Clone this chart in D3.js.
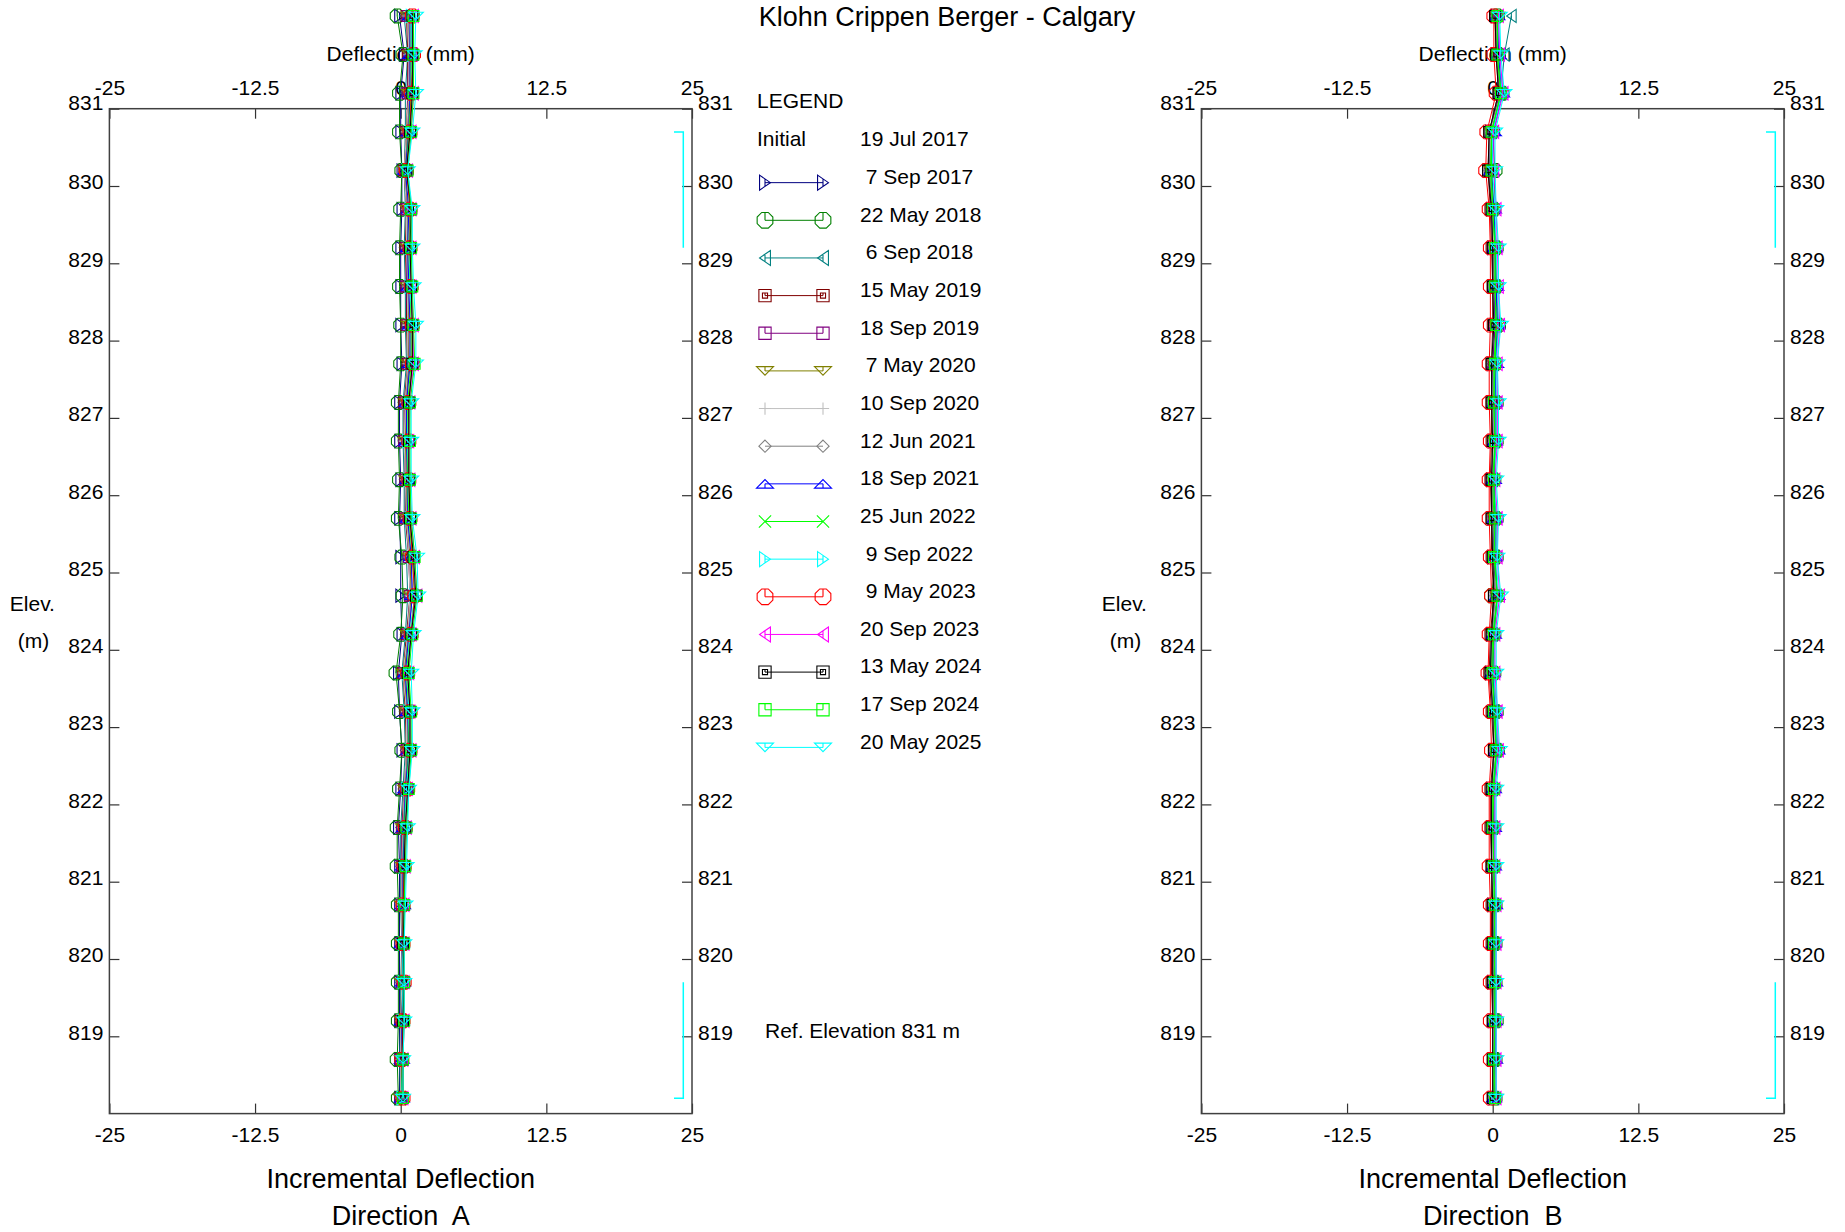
<!DOCTYPE html>
<html>
<head>
<meta charset="utf-8">
<script src="https://cdn.jsdelivr.net/npm/d3@7"></script>
<style>
  body { margin: 0; background: #fff; }
  svg { display: block; }
  text { font-family: "Liberation Sans", Arial, Helvetica, sans-serif; fill: #000; }
</style>
</head>
<body>
<script>
// ---------------- DATA ----------------
const elevations = [832.2,831.7,831.2,830.7,830.2,829.7,829.2,828.7,828.2,827.7,
                    827.2,826.7,826.2,825.7,825.2,824.7,824.2,823.7,823.2,822.7,
                    822.2,821.7,821.2,820.7,820.2,819.7,819.2,818.7,818.2];
const initialDate = "19 Jul 2017";
const dates = ["7 Sep 2017","22 May 2018","6 Sep 2018","15 May 2019","18 Sep 2019","7 May 2020",
               "10 Sep 2020","12 Jun 2021","18 Sep 2021","25 Jun 2022","9 Sep 2022","9 May 2023",
               "20 Sep 2023","13 May 2024","17 Sep 2024","20 May 2025"];
const xTicks = [-25, -12.5, 0, 12.5, 25];
const yTicks = [831,830,829,828,827,826,825,824,823,822,821,820,819];
const bracketRanges = [[830.7, 829.2], [819.7, 818.2]];

// Direction A (mm)
const A_07Sep2017 = [-0.1,0.3,0.0,0.0,0.1,0.1,0.0,0.0,0.0,0.1, -0.1,-0.1,0.0,-0.1,0.0,0.0,0.1,-0.2,-0.1,0.1, 0.0,-0.2,-0.1,-0.1,-0.1,-0.1,-0.1,-0.1,-0.1];
const A_22May2018 = [-0.3,0.2,-0.1,-0.1,0.1,0.0,-0.1,-0.1,0.0,0.0, -0.2,-0.2,-0.1,-0.2,0.1,0.2,0.0,-0.4,-0.1,0.1, -0.1,-0.3,-0.3,-0.2,-0.2,-0.2,-0.2,-0.3,-0.2];
const A_06Sep2018 = [0.3,0.6,0.4,0.4,0.3,0.4,0.3,0.4,0.4,0.5, 0.2,0.2,0.3,0.3,0.5,0.6,0.4,0.1,0.3,0.4, 0.2,0.0,0.0,0.0,0.1,0.0,0.0,-0.1,0.0];
const A_15May2019 = [0.5,0.6,0.6,0.5,0.3,0.5,0.4,0.5,0.5,0.6, 0.3,0.3,0.4,0.4,0.7,0.8,0.5,0.2,0.4,0.5, 0.3,0.1,0.1,0.1,0.1,0.1,0.0,0.0,0.0];
const A_18Sep2019 = [0.6,0.7,0.6,0.6,0.4,0.5,0.5,0.5,0.6,0.7, 0.4,0.3,0.4,0.5,0.7,0.8,0.6,0.3,0.5,0.5, 0.4,0.1,0.1,0.1,0.1,0.1,0.1,0.0,0.0];
const A_07May2020 = [0.6,0.8,0.7,0.6,0.4,0.6,0.6,0.6,0.7,0.7, 0.5,0.4,0.5,0.5,0.8,0.9,0.6,0.3,0.5,0.6, 0.4,0.2,0.2,0.1,0.1,0.1,0.1,0.1,0.0];
const A_10Sep2020 = [0.6,0.7,0.7,0.5,0.3,0.5,0.5,0.6,0.6,0.6, 0.4,0.3,0.4,0.5,0.7,0.8,0.6,0.2,0.5,0.5, 0.3,0.2,0.1,0.1,0.1,0.1,0.0,0.0,0.0];
const A_12Jun2021 = [0.7,0.8,0.8,0.6,0.4,0.6,0.6,0.6,0.8,0.8, 0.5,0.5,0.5,0.6,0.9,1.0,0.7,0.4,0.6,0.6, 0.4,0.2,0.2,0.2,0.2,0.2,0.1,0.1,0.1];
const A_18Sep2021 = [0.8,0.8,0.8,0.7,0.4,0.7,0.6,0.7,0.8,0.8, 0.5,0.5,0.6,0.6,0.9,1.0,0.7,0.4,0.6,0.7, 0.4,0.3,0.2,0.2,0.1,0.2,0.1,0.1,0.1];
const A_25Jun2022 = [0.9,0.9,0.9,0.7,0.5,0.8,0.7,0.8,0.9,0.9, 0.6,0.6,0.6,0.7,1.0,1.2,0.8,0.5,0.7,0.7, 0.5,0.3,0.3,0.2,0.2,0.2,0.2,0.1,0.1];
const A_09Sep2022 = [0.9,1.0,1.0,0.8,0.5,0.8,0.8,0.8,1.0,1.0, 0.7,0.6,0.7,0.8,1.1,1.2,0.8,0.6,0.7,0.8, 0.5,0.4,0.3,0.3,0.2,0.2,0.2,0.2,0.1];
const A_09May2023 = [1.0,1.1,0.9,0.8,0.5,0.8,0.8,0.9,1.0,1.0, 0.7,0.7,0.7,0.8,1.0,1.2,0.9,0.6,0.8,0.8, 0.6,0.4,0.3,0.2,0.2,0.3,0.2,0.1,0.2];
const A_20Sep2023 = [1.1,1.0,1.1,0.9,0.6,0.9,0.9,0.9,1.1,1.1, 0.8,0.7,0.8,0.9,1.2,1.4,0.9,0.7,0.8,0.9, 0.6,0.5,0.4,0.3,0.3,0.3,0.3,0.2,0.2];
const A_13May2024 = [1.0,1.0,1.0,0.8,0.5,0.9,0.8,0.9,1.0,1.0, 0.7,0.7,0.7,0.8,1.1,1.3,0.9,0.6,0.8,0.8, 0.6,0.4,0.3,0.3,0.2,0.3,0.2,0.2,0.2];
const A_17Sep2024 = [1.1,1.1,1.1,0.9,0.6,0.9,0.9,1.0,1.1,1.2, 0.8,0.8,0.8,0.9,1.2,1.4,1.0,0.7,0.9,0.9, 0.7,0.5,0.4,0.3,0.3,0.3,0.3,0.2,0.2];
const A_20May2025 = [1.3,1.2,1.3,1.0,0.6,1.0,1.0,1.1,1.3,1.3, 0.9,0.9,0.9,1.0,1.4,1.5,1.1,0.9,1.0,1.0, 0.7,0.6,0.5,0.4,0.3,0.3,0.3,0.2,0.2];

// Direction B (mm)
const B_07Sep2017 = [0.3,0.3,0.6,-0.2,-0.3,-0.1,0.0,0.1,0.2,0.0, 0.0,0.1,-0.1,0.0,0.0,0.2,-0.1,-0.2,0.1,0.2, -0.1,-0.1,0.0,0.0,0.0,0.0,0.1,0.1,0.1];
const B_22May2018 = [0.4,0.5,0.8,0.0,0.2,0.1,0.3,0.3,0.5,0.2, 0.3,0.3,0.1,0.3,0.3,-0.1,0.1,0.1,0.3,0.4, 0.1,0.1,0.1,0.2,0.2,0.2,0.3,0.2,0.2];
const B_06Sep2018 = [1.6,1.0,0.7,-0.1,-0.2,0.0,0.1,0.2,0.3,0.1, 0.1,0.1,0.0,0.1,0.1,0.3,0.0,-0.1,0.1,0.3, 0.0,0.0,0.0,0.1,0.1,0.1,0.1,0.1,0.1];
const B_15May2019 = [0.2,0.3,0.5,-0.3,-0.4,-0.2,-0.1,0.0,0.0,-0.1, -0.1,-0.1,-0.2,-0.1,-0.1,0.1,-0.2,-0.3,-0.1,0.1, -0.2,-0.2,-0.1,-0.1,-0.1,-0.1,0.0,0.0,0.0];
const B_18Sep2019 = [0.3,0.4,0.6,-0.2,-0.2,0.0,0.1,0.2,0.2,0.0, 0.1,0.1,-0.1,0.1,0.1,0.3,0.0,-0.1,0.1,0.2, 0.1,0.0,0.0,0.1,0.1,0.1,0.1,0.1,0.1];
const B_07May2020 = [0.4,0.5,0.7,-0.1,-0.1,0.1,0.2,0.3,0.4,0.2, 0.2,0.2,0.1,0.2,0.2,0.4,0.1,0.0,0.2,0.3, 0.1,0.1,0.1,0.2,0.2,0.2,0.2,0.2,0.2];
const B_10Sep2020 = [0.3,0.4,0.7,-0.2,-0.2,0.0,0.1,0.2,0.3,0.1, 0.1,0.1,0.0,0.1,0.2,0.3,0.0,-0.1,0.1,0.2, 0.0,0.0,0.0,0.1,0.1,0.1,0.1,0.1,0.1];
const B_12Jun2021 = [0.3,0.4,0.5,-0.3,-0.3,-0.1,0.0,0.1,0.1,-0.1, 0.0,0.0,-0.1,0.0,0.0,0.2,-0.1,-0.2,0.0,0.1, -0.1,-0.1,-0.1,0.0,0.0,0.0,0.0,0.0,0.0];
const B_18Sep2021 = [0.4,0.5,0.8,0.1,-0.1,0.1,0.2,0.3,0.4,0.3, 0.2,0.2,0.1,0.2,0.2,0.4,0.1,0.0,0.2,0.4, 0.1,0.1,0.1,0.2,0.1,0.2,0.2,0.2,0.1];
const B_25Jun2022 = [0.4,0.4,0.7,-0.1,-0.2,0.0,0.2,0.2,0.3,0.1, 0.1,0.2,0.0,0.1,0.2,0.4,0.0,-0.1,0.2,0.3, 0.0,0.0,0.1,0.1,0.2,0.1,0.2,0.1,0.1];
const B_09Sep2022 = [0.5,0.6,0.8,0.0,0.0,0.2,0.3,0.4,0.5,0.3, 0.3,0.3,0.2,0.3,0.3,0.5,0.2,0.1,0.3,0.4, 0.2,0.2,0.2,0.3,0.3,0.3,0.3,0.3,0.3];
const B_09May2023 = [0.1,0.1,0.3,-0.5,-0.6,-0.3,-0.2,-0.2,-0.2,-0.3, -0.3,-0.2,-0.3,-0.3,-0.2,-0.1,-0.3,-0.4,-0.2,-0.1, -0.3,-0.3,-0.3,-0.2,-0.2,-0.2,-0.2,-0.2,-0.2];
const B_20Sep2023 = [0.5,0.6,0.9,0.1,0.1,0.3,0.4,0.5,0.6,0.4, 0.4,0.4,0.2,0.4,0.4,0.6,0.2,0.2,0.4,0.5, 0.2,0.2,0.2,0.3,0.3,0.3,0.3,0.3,0.3];
const B_13May2024 = [0.2,0.3,0.5,-0.3,-0.4,-0.1,0.0,0.0,0.1,-0.1, -0.1,0.0,-0.1,-0.1,0.0,0.1,-0.1,-0.2,0.0,0.1, -0.1,-0.1,-0.1,0.0,0.0,0.0,0.0,0.0,0.0];
const B_17Sep2024 = [0.4,0.4,0.7,-0.1,-0.1,0.0,0.2,0.2,0.3,0.2, 0.1,0.2,0.1,0.2,0.1,0.4,0.1,0.0,0.1,0.3, 0.1,0.0,0.1,0.2,0.1,0.2,0.2,0.1,0.2];
const B_20May2025 = [0.6,0.7,1.0,0.2,0.2,0.3,0.5,0.5,0.7,0.4, 0.5,0.5,0.3,0.5,0.4,0.7,0.3,0.3,0.4,0.6, 0.3,0.3,0.3,0.3,0.3,0.3,0.3,0.3,0.3];

const seriesA = [A_07Sep2017,A_22May2018,A_06Sep2018,A_15May2019,A_18Sep2019,A_07May2020,A_10Sep2020,A_12Jun2021,
                 A_18Sep2021,A_25Jun2022,A_09Sep2022,A_09May2023,A_20Sep2023,A_13May2024,A_17Sep2024,A_20May2025];
const seriesB = [B_07Sep2017,B_22May2018,B_06Sep2018,B_15May2019,B_18Sep2019,B_07May2020,B_10Sep2020,B_12Jun2021,
                 B_18Sep2021,B_25Jun2022,B_09Sep2022,B_09May2023,B_20Sep2023,B_13May2024,B_17Sep2024,B_20May2025];

// ---------------- STYLES ----------------
const seriesColors = ["#000080","#008000","#008080","#800000","#800080","#808000","#c0c0c0","#808080",
                      "#0000ff","#00ff00","#00ffff","#ff0000","#ff00ff","#000000","#00ff00","#00ffff"];
const seriesMarkers = ["triR","oct","triL","sq2","sq","triD","plus","diam","triU","x","triR","oct","triL","sq2","sq","triD"];

function markerPath(type, s) {
  const h = s / 2;
  const a = s * 0.36;
  switch (type) {
    case "triR": { const w = s * 0.32, t = s * 0.44;
      return `M${-w},${-t}L${w},0L${-w},${t}Z M0,${-t/2}L0,${t/2}`; }
    case "triL": { const w = s * 0.32, t = s * 0.44;
      return `M${w},${-t}L${-w},0L${w},${t}Z M0,${-t/2}L0,${t/2}`; }
    case "oct": {
      let d = "";
      for (let k = 0; k < 8; k++) {
        const ang = Math.PI / 8 + k * Math.PI / 4;
        d += (k ? "L" : "M") + (h * Math.cos(ang)).toFixed(2) + "," + (h * Math.sin(ang)).toFixed(2);
      }
      return d + `Z M0,0L0,${-h * 0.92}`;
    }
    case "sq": return `M${-a},${-a}H${a}V${a}H${-a}Z M0,0L0,${-a}`;
    case "sq2": { const b = s * 0.15;
      return `M${-a},${-a}H${a}V${a}H${-a}Z M${-b},${-b}H${b}V${b}H${-b}Z M0,0L0,${-b}`; }
    case "triD": { const t = s * 0.25;
      return `M${-h},${-t}L${h},${-t}L0,${t}Z M0,0L0,${-t}`; }
    case "triU": { const t = s * 0.25;
      return `M${-h},${t}L${h},${t}L0,${-t}Z M0,0L0,${t}`; }
    case "plus": return `M${-a},0H${a}M0,${-a}V${a}`;
    case "diam": return `M0,${-a}L${a},0L0,${a}L${-a},0Z`;
    case "x": return `M${-a},${-a}L${a},${a}M${-a},${a}L${a},${-a}`;
  }
  return "";
}

// ---------------- DRAW ----------------
const FONT = '"Liberation Sans", Arial, Helvetica, sans-serif';
const svg = d3.select("body").append("svg").attr("width", 1845).attr("height", 1232);
svg.append("rect").attr("width", 1845).attr("height", 1232).attr("fill", "#fff");

const plotTop = 108.7, plotBottom = 1113.6;
const y = d3.scaleLinear().domain([818, 831]).range([plotBottom, plotTop]);
const fmt = d => String(d);

svg.append("text").attr("x", 947).attr("y", 16.5).attr("dy", "0.35em")
  .attr("text-anchor", "middle").style("font-size", "27px").text("Klohn Crippen Berger - Calgary");

const panels = [
  { name: "A", x0: 109.4, x1: 692, series: seriesA },
  { name: "B", x0: 1201.4, x1: 1784, series: seriesB }
];

function styleAxis(sel) {
  sel.attr("font-family", FONT).attr("font-size", 21);
  sel.select(".domain").remove();
  sel.selectAll(".tick line").attr("stroke", "#333").attr("stroke-width", 1.2);
  sel.selectAll(".tick text").attr("fill", "#000");
}

panels.forEach(p => {
  const x = d3.scaleLinear().domain([-25, 25]).range([p.x0, p.x1]);
  const cx = (p.x0 + p.x1) / 2;
  const g = svg.append("g");

  g.append("text").attr("x", cx).attr("y", 54).attr("dy", "0.35em").attr("text-anchor", "middle")
    .style("font-size", "21px").text("Deflection (mm)");
  g.append("text").attr("x", cx).attr("y", 1179).attr("dy", "0.35em").attr("text-anchor", "middle")
    .style("font-size", "27px").text("Incremental Deflection");
  g.append("text").attr("x", cx).attr("y", 1216).attr("dy", "0.35em").attr("text-anchor", "middle")
    .style("font-size", "27px").style("white-space", "pre").text("Direction  " + p.name);
  g.append("text").attr("x", p.x0 - 77).attr("y", 604).attr("dy", "0.35em").attr("text-anchor", "middle")
    .style("font-size", "21px").text("Elev.");
  g.append("text").attr("x", p.x0 - 76).attr("y", 641).attr("dy", "0.35em").attr("text-anchor", "middle")
    .style("font-size", "21px").text("(m)");

  // axes
  const axT = g.append("g").attr("transform", `translate(0,${plotTop})`)
    .call(d3.axisTop(x).tickValues(xTicks).tickSize(-10).tickSizeOuter(0).tickFormat(fmt));
  styleAxis(axT);
  axT.selectAll(".tick text").attr("y", -20.7).attr("dy", "0.35em");

  const axB = g.append("g").attr("transform", `translate(0,${plotBottom})`)
    .call(d3.axisBottom(x).tickValues(xTicks).tickSize(-10).tickSizeOuter(0).tickFormat(fmt));
  styleAxis(axB);
  axB.selectAll(".tick text").attr("y", 20.7).attr("dy", "0.35em");

  const axL = g.append("g").attr("transform", `translate(${p.x0},0)`)
    .call(d3.axisLeft(y).tickValues(yTicks).tickSize(-10).tickSizeOuter(0).tickFormat(fmt));
  styleAxis(axL);
  axL.selectAll(".tick text").attr("x", -6).attr("y", d => d === 831 ? -6.5 : -4.5).attr("dy", "0.35em");

  const axR = g.append("g").attr("transform", `translate(${p.x1},0)`)
    .call(d3.axisRight(y).tickValues(yTicks).tickSize(-10).tickSizeOuter(0).tickFormat(fmt));
  styleAxis(axR);
  axR.selectAll(".tick text").attr("x", 6).attr("y", d => d === 831 ? -6.5 : -4.5).attr("dy", "0.35em");

  // frame
  g.append("rect").attr("x", p.x0).attr("y", plotTop)
    .attr("width", p.x1 - p.x0).attr("height", plotBottom - plotTop)
    .attr("fill", "none").attr("stroke", "#404040").attr("stroke-width", 1.5);

  // brackets
  const bx = p.x1 - 8.7;
  bracketRanges.forEach((r, k) => {
    const ya = y(r[0]), yb = y(r[1]);
    const d = k === 0 ? `M${bx - 9.3},${ya}H${bx}V${yb}` : `M${bx},${ya}V${yb}H${bx - 9.3}`;
    g.append("path").attr("d", d).attr("fill", "none").attr("stroke", "#00ffff").attr("stroke-width", 1.5);
  });

  // data
  p.series.forEach((vals, i) => {
    const pts = vals.map((v, j) => [x(v), y(elevations[j])]);
    g.append("path").attr("d", d3.line()(pts)).attr("fill", "none")
      .attr("stroke", seriesColors[i]).attr("stroke-width", 1);
    g.append("g").selectAll("path").data(pts).join("path")
      .attr("transform", d => `translate(${d[0]},${d[1]})`)
      .attr("d", markerPath(seriesMarkers[i], 15))
      .attr("fill", "none").attr("stroke", seriesColors[i]).attr("stroke-width", 1.1);
  });
});

// legend
const lg = svg.append("g");
lg.append("text").attr("x", 757).attr("y", 101).attr("dy", "0.35em").style("font-size", "21px").text("LEGEND");
lg.append("text").attr("x", 757).attr("y", 139).attr("dy", "0.35em").style("font-size", "21px").text("Initial");
lg.append("text").attr("x", 860).attr("y", 139).attr("dy", "0.35em").style("font-size", "21px").text(initialDate);
const rowStep = 37.65;
dates.forEach((d, i) => {
  const ty = 139 + rowStep * (i + 1);
  const sy = ty + 6;
  const col = seriesColors[i];
  lg.append("line").attr("x1", 765).attr("x2", 823).attr("y1", sy).attr("y2", sy)
    .attr("stroke", col).attr("stroke-width", 1);
  [765, 823].forEach(mx => {
    lg.append("path").attr("transform", `translate(${mx},${sy})`)
      .attr("d", markerPath(seriesMarkers[i], 17)).attr("fill", "none")
      .attr("stroke", col).attr("stroke-width", 1.1);
  });
  const single = /^\d\s/.test(d);
  lg.append("text").attr("x", 860).attr("y", ty).attr("dy", "0.35em")
    .style("font-size", "21px").style("white-space", "pre").text((single ? " " : "") + d);
});
lg.append("text").attr("x", 765).attr("y", 1031).attr("dy", "0.35em").style("font-size", "21px")
  .text("Ref. Elevation 831 m");
</script>
</body>
</html>
